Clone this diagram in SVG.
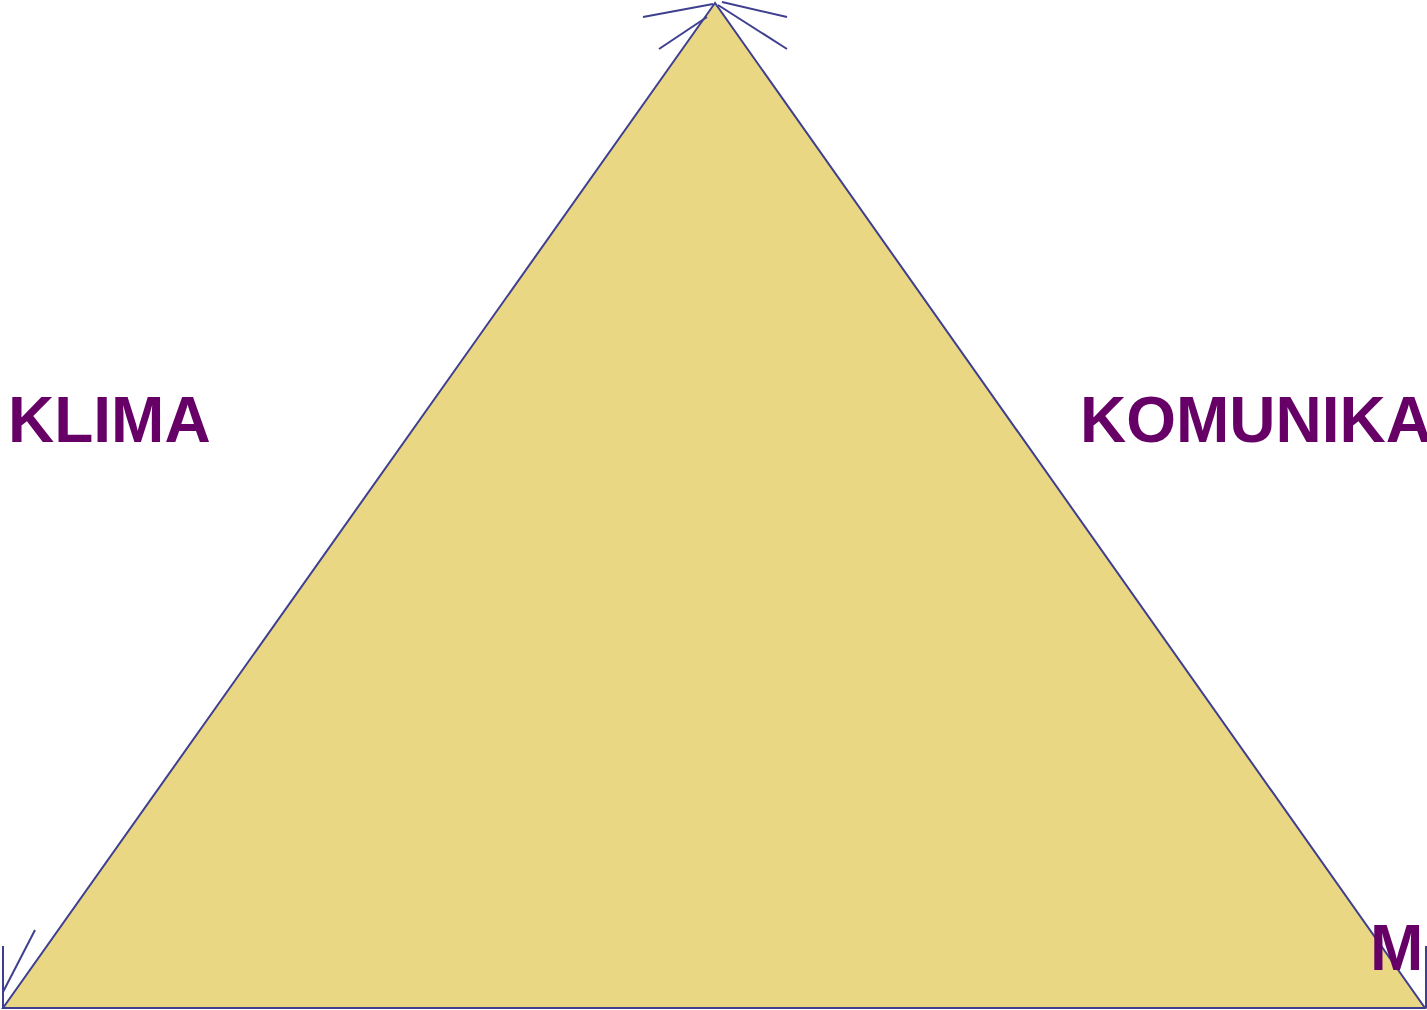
<svg xmlns="http://www.w3.org/2000/svg" width="1427" height="1010" viewBox="0 0 1427 1010">
<style>
.ln{stroke:#3f3f8f;stroke-width:2;fill:none}
.t{font-family:"Liberation Sans",Arial,sans-serif;font-weight:bold;font-size:64px;fill:#660066}
</style>
<rect width="1427" height="1010" fill="#fff"/>
<g id="triangle">
<polygon points="715,3 3,1008 1425,1008" fill="#ead784" stroke="#3f3f8f" stroke-width="2"/>
</g>
<g id="connectors">
<path class="ln" d="M643,17 L713,4"/>
<path class="ln" d="M722,2 L787,17"/>
<path class="ln" d="M659,49 L707,17"/>
<path class="ln" d="M718,5 L787,49"/>
<path class="ln" d="M3,946 L3,1008"/>
<path class="ln" d="M35,930 L3,992"/>
<path class="ln" d="M1426,946 L1426,1008"/>
</g>
<g id="labels">
<text class="t" x="8" y="442">KLIMA</text>
<text class="t" x="1080" y="442">KOMUNIKA</text>
<text class="t" x="1370" y="970">M</text>
</g>
</svg>
